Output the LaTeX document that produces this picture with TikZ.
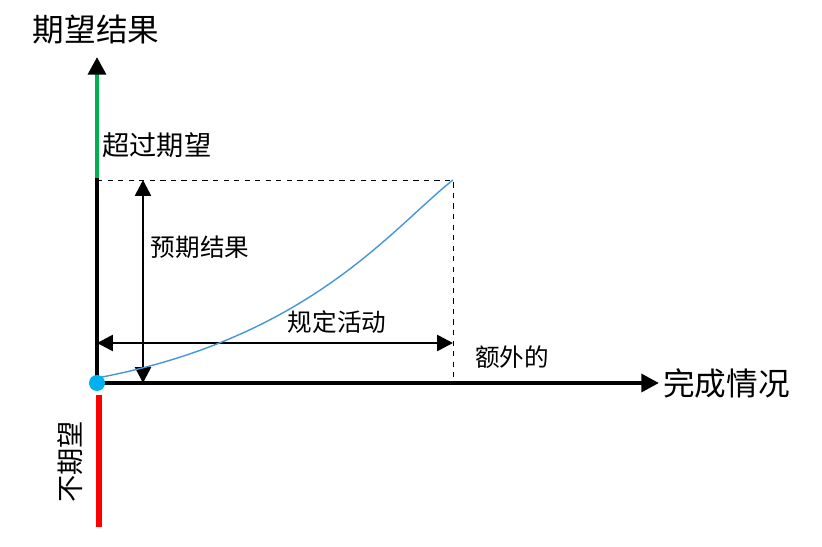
\documentclass[tikz,border=0pt]{standalone}
\usepackage{fontspec}
\setmainfont{Noto Sans CJK SC}
\usetikzlibrary{arrows.meta, positioning}
\definecolor{goodgreen}{RGB}{0,176,80}
\definecolor{curveblue}{RGB}{68,150,220}
\definecolor{dotblue}{RGB}{0,176,240}

\begin{document}
\begin{tikzpicture}[x=0.02cm, y=-0.02cm,
    axis/.style = {line width=2.4pt, -{Triangle[length=10pt, width=10pt, color=black]}},
    span/.style = {line width=1.5pt, {Triangle[length=9pt, width=9pt]}-{Triangle[length=9pt, width=9pt]}},
    lbl/.style = {inner sep=0pt, font=\fontsize{14}{16}\selectfont},
    big/.style = {inner sep=0pt, font=\fontsize{18}{20}\selectfont}]
    \useasboundingbox (0,0) rectangle (822,547);
    % Points
    \coordinate (O) at (97,383);
    \coordinate (C0) at (97,378);
    \coordinate (G) at (97,178);
    \coordinate (Y) at (97,57);
    \coordinate (X) at (659,383);
    \coordinate (T) at (97,180);
    \coordinate (TR) at (453,180);
    \coordinate (BR) at (453,383);
    \coordinate (R1) at (99,395);
    \coordinate (R2) at (99,527);
    \coordinate (V1) at (143,180);
    \coordinate (V2) at (143,383);
    \coordinate (H1) at (97,343);
    \coordinate (H2) at (453,343);

    % Axes
    \draw[dashed, thin] (T) -- (TR) -- (BR);
    \draw[line width=2.4pt] (O) -- (G);
    \draw[axis, goodgreen] (G) -- (Y);
    \draw[axis] (O) -- (X);
    \draw[line width=3.4pt, red] (R1) -- (R2);

    % Arrows and curve
    \draw[span] (V1) -- (V2);
    \draw[span] (H1) -- (H2);
    \draw[curveblue, line width=0.8pt] (C0) .. controls (310,338) and (392,228) .. (TR);
    \fill[dotblue] (O) circle (8);

    % Labels
    \node[big] (ytitle) at (96,30) {期望结果};
    \node[big, anchor=west] (xtitle) at (663,383) {完成情况};
    \node[lbl, anchor=west, font=\fontsize{15.5}{17}\selectfont] (over) at (102,145) {超过期望};
    \node[lbl] (expect) at (200,247) {预期结果};
    \node[lbl] (act) at (337,322) {规定活动};
    \node[lbl] (extra) at (512,357) {额外的};
    \node[lbl, rotate=90, font=\fontsize{15.5}{17}\selectfont] (under) at (70,462) {不期望};
\end{tikzpicture}
\end{document}
